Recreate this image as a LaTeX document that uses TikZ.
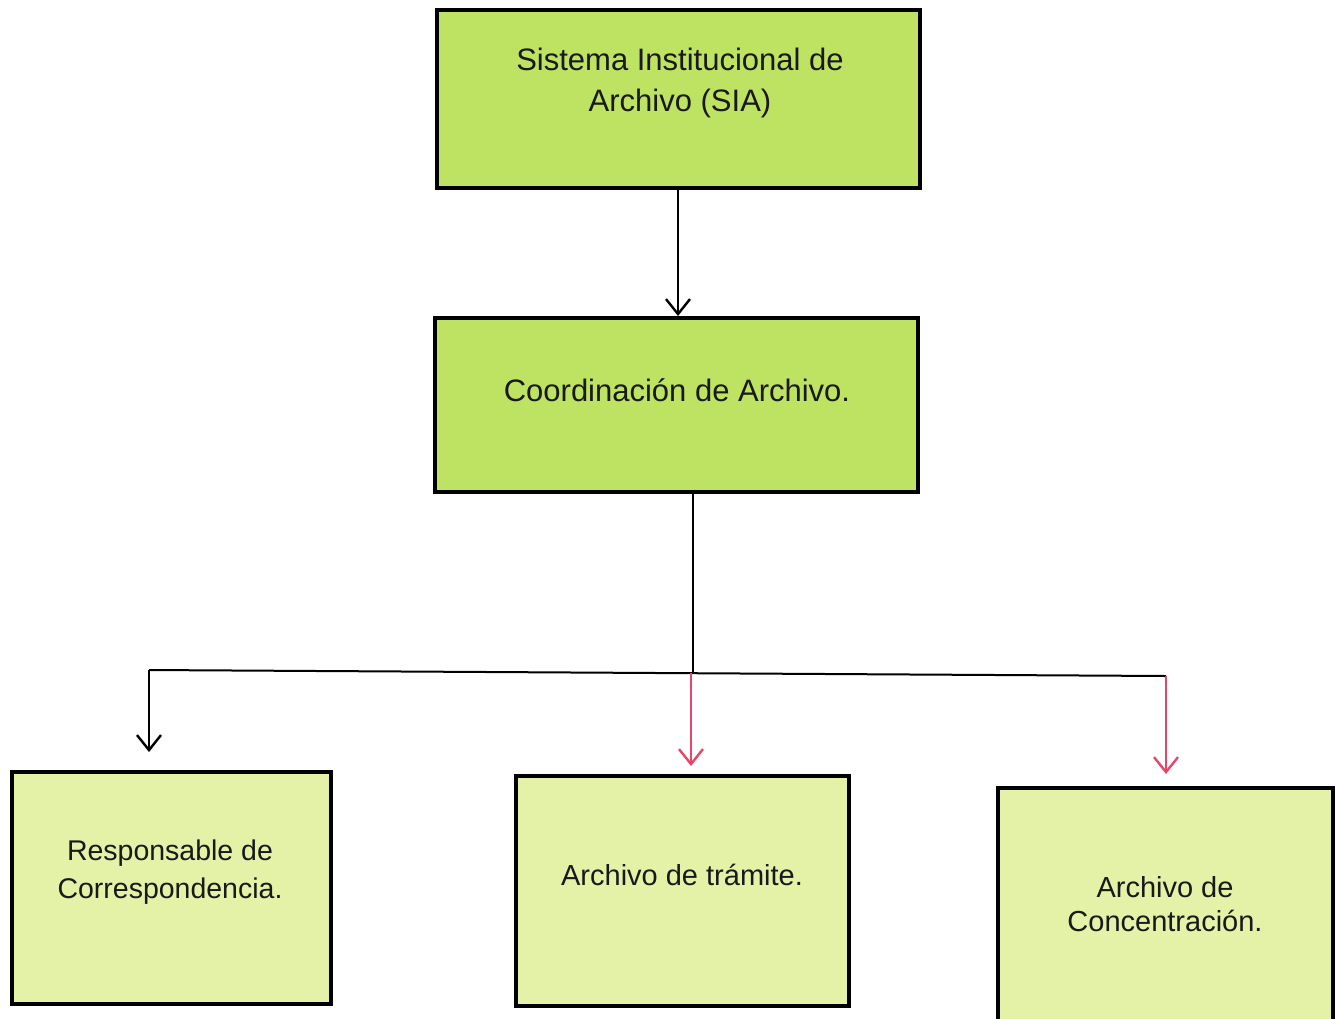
\documentclass[tikz,border=0pt]{standalone}
\usepackage{fontspec}
\setmainfont{Liberation Sans}
\usetikzlibrary{arrows.meta}
\definecolor{boxgreen}{RGB}{190,226,98}
\definecolor{boxpale}{RGB}{228,242,168}
\definecolor{arrred}{RGB}{232,70,105}
\begin{document}
\begin{tikzpicture}[x=1pt,y=-1pt,
  box/.style={draw=black,line width=4pt,minimum width=#1,inner sep=0pt},
  lbl/.style={align=center,font=\fontsize{31}{41}\selectfont,text=black!90},
  conn/.style={line width=2.2pt,-{Straight Barb[length=15pt,width=24pt,line width=2.4pt]}},
  plain/.style={line width=2pt}]
\useasboundingbox (0,0) rectangle (1335,1018);
% boxes
\node[box=483pt,minimum height=178pt,fill=boxgreen] (sia) at (678.5,99) {};
\node[box=483pt,minimum height=174pt,fill=boxgreen] (coord) at (676.5,405) {};
\node[box=319pt,minimum height=232pt,fill=boxpale] (resp) at (171.5,888) {};
\node[box=333pt,minimum height=230pt,fill=boxpale] (tram) at (682.5,891) {};
\node[box=335pt,minimum height=240pt,fill=boxpale] (conc) at (1165.5,908) {};
% texts
\node[lbl] (tsia) at (680,83) {Sistema Institucional de\\Archivo (SIA)};
\node[lbl] (tcoord) at (677,390) {Coordinación de Archivo.};
\node[lbl,font=\fontsize{28.5}{38}\selectfont] (tresp) at (170,872) {Responsable de\\Correspondencia.};
\node[lbl,font=\fontsize{29}{38}\selectfont] (ttram) at (682,875) {Archivo de trámite.};
\node[lbl,font=\fontsize{29}{34}\selectfont] (tconc) at (1165,904) {Archivo de\\Concentración.};
% connectors
\coordinate (j) at (693,672);
\coordinate (jl) at (149,670);
\coordinate (jr) at (1166,676);
\draw[conn] (sia.south -| 678,0) -- (coord.north -| 678,0);
\draw[plain] (coord.south -| j) -- (j);
\draw[plain] (jl) -- (jr);
\draw[conn] (jl) -- (149,752);
\draw[conn,draw=arrred] (691,673) -- (691,766);
\draw[conn,draw=arrred] (jr) -- (1166,774);
\end{tikzpicture}
\end{document}
